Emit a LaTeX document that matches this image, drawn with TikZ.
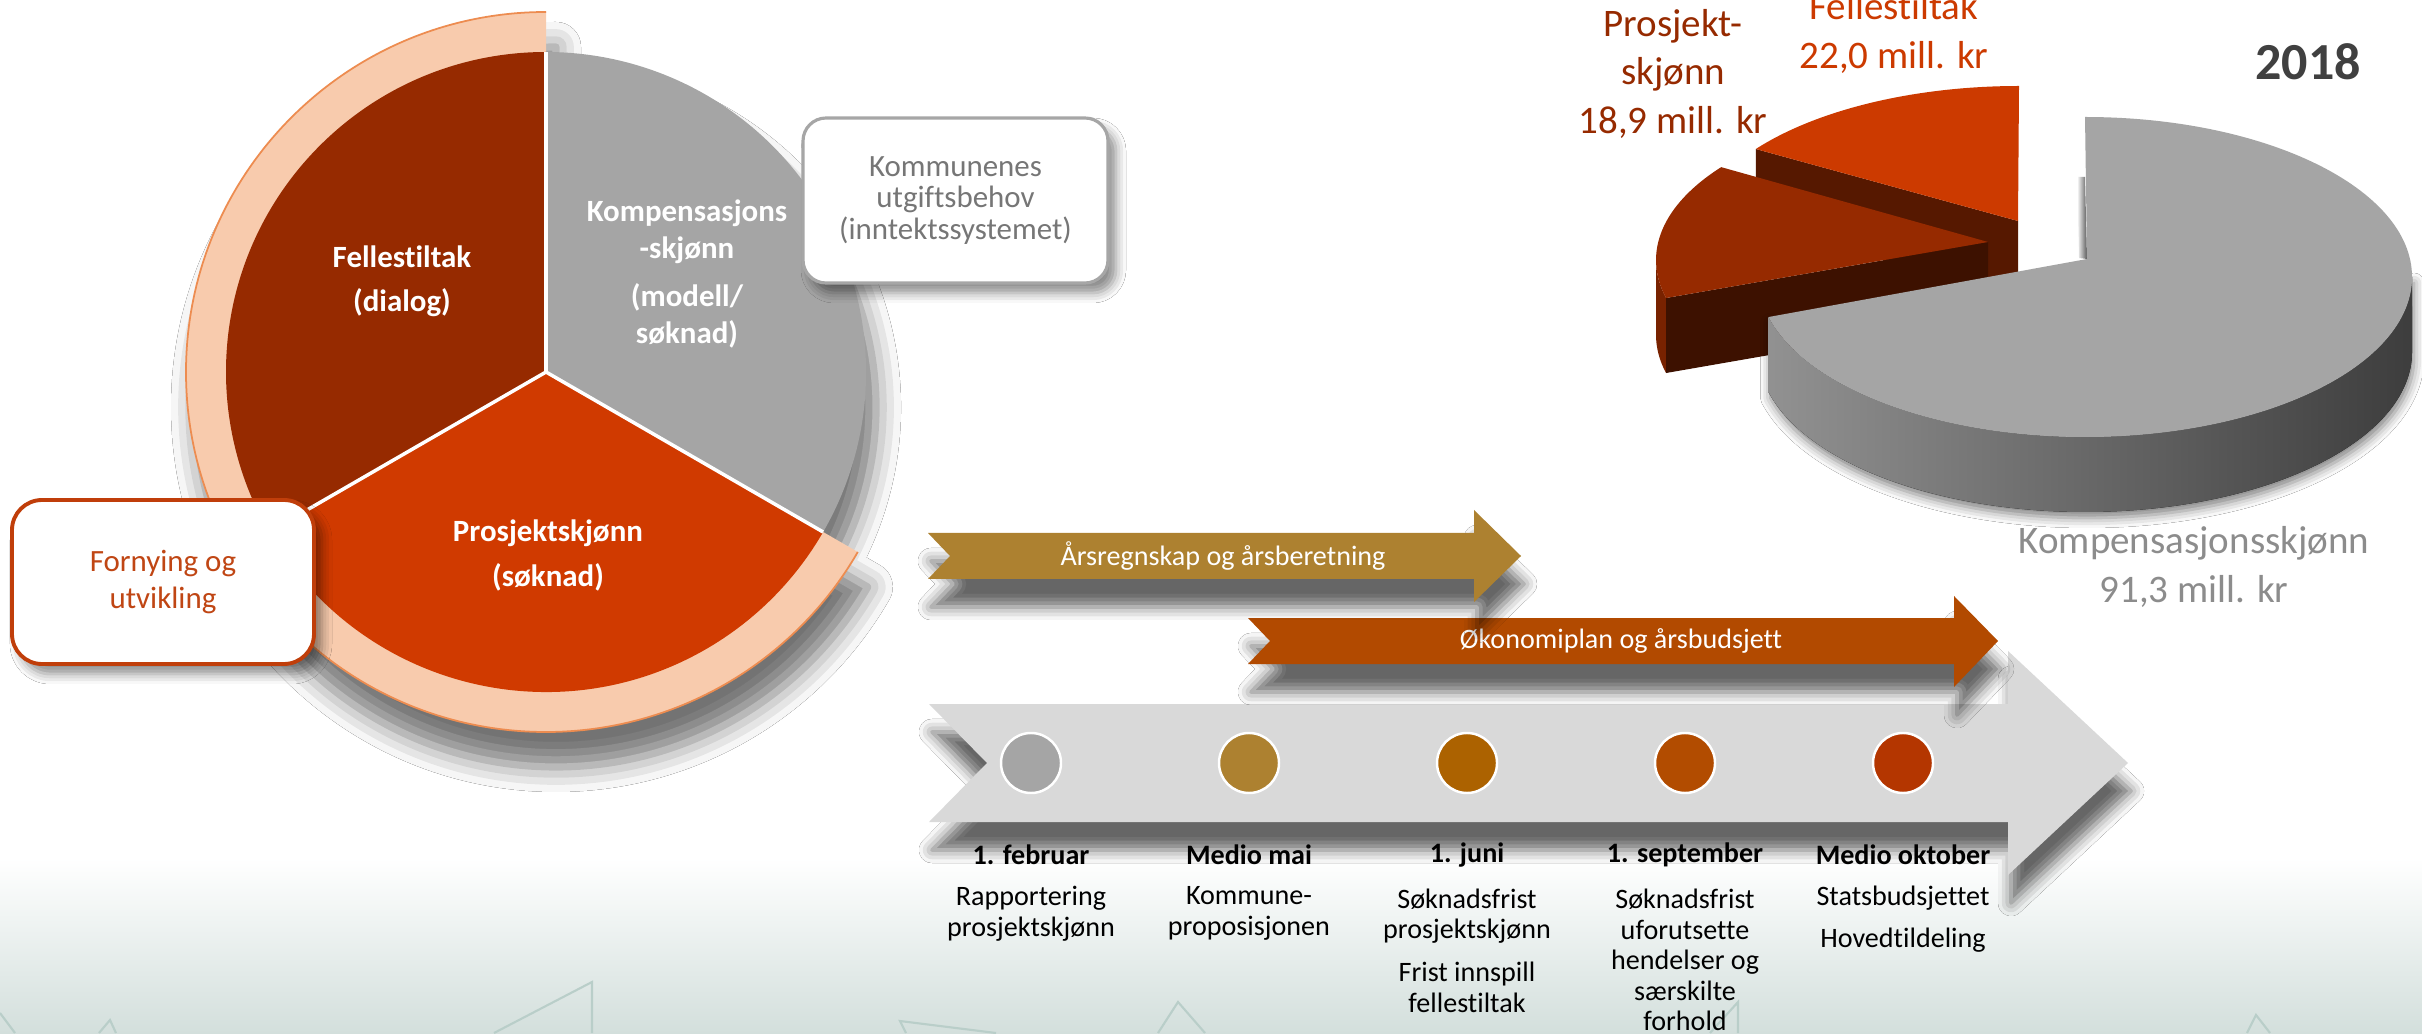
\documentclass[tikz,border=0pt]{standalone}
\usepackage{fontspec}
\setmainfont{Carlito}[Ligatures={NoCommon}]
\usepackage{tikz}
\usetikzlibrary{positioning, calc, shadows.blur}

\definecolor{fellesred}{RGB}{150,42,0}
\definecolor{prosjektorange}{RGB}{208,58,0}
\definecolor{kompgray}{RGB}{165,165,165}
\definecolor{peach}{RGB}{248,203,173}
\definecolor{peachline}{RGB}{237,140,80}
\definecolor{boxgray}{RGB}{166,166,166}
\definecolor{notegray}{RGB}{118,118,118}
\definecolor{fornyline}{RGB}{192,62,10}
\definecolor{fornytext}{RGB}{192,70,20}
\definecolor{goldband}{RGB}{173,129,48}
\definecolor{rustband}{RGB}{178,74,0}
\definecolor{timegray}{RGB}{217,217,217}
\definecolor{dotjuni}{RGB}{172,98,0}
\definecolor{dotsept}{RGB}{178,76,0}
\definecolor{dotokt}{RGB}{180,54,0}
\definecolor{pietopfelles}{RGB}{204,58,0}
\definecolor{piesidefelles}{RGB}{86,24,0}
\definecolor{piesideprosjekt}{RGB}{61,17,0}
\definecolor{pieedgeprosjekt}{RGB}{120,34,0}
\definecolor{amountgray}{RGB}{140,140,140}
\definecolor{yeargray}{RGB}{64,64,64}
\definecolor{groundteal}{RGB}{211,223,220}
\definecolor{groundline}{RGB}{185,206,201}

\newcommand{\piefont}{\fontsize{8.8}{10.4}\selectfont}
\newcommand{\notefont}{\fontsize{8.8}{9.0}\selectfont}
\newcommand{\fornyfont}{\fontsize{8.8}{10.5}\selectfont}
\newcommand{\amountfont}{\fontsize{11.1}{13.8}\selectfont}
\newcommand{\yearfont}{\fontsize{14.8}{17}\selectfont}
\newcommand{\bandfont}{\fontsize{8}{9.6}\selectfont}
\newcommand{\timefont}{\fontsize{8}{8.7}\selectfont}

\begin{document}
\begin{tikzpicture}[
    slicelabel/.style={text=white, font=\piefont\bfseries, align=center},
    notebox/.style={fill=white, align=center,
        blur shadow={shadow xshift=0.08cm, shadow yshift=-0.1cm, shadow blur radius=0.1cm, shadow opacity=45}},
    bandshadow/.style={blur shadow={shadow xshift=0.03cm, shadow yshift=-0.28cm, shadow blur radius=0.13cm, shadow opacity=60}},
    bandtext/.style={text=white, font=\bandfont},
    datelabel/.style={font=\timefont\bfseries, text=black},
    eventtext/.style={font=\timefont, align=center, text=black},
    amount/.style={font=\amountfont, align=center},
    daydot/.style={circle, draw=white, line width=0.7pt, minimum size=0.6cm, inner sep=0pt}
]
    % === Background ===
    \clip (0,0) rectangle (24.22,10.33);
    \fill[white] (0,0) rectangle (24.22,10.33);
    \shade[top color=white, bottom color=groundteal] (0,0) rectangle (24.22,1.75);
    \draw[groundline, line width=0.6pt] (0,0.20) -- (0.15,0);
    \draw[groundline, line width=0.6pt] (0.99,0) -- (1.10,0.13) -- (1.16,0);
    \draw[groundline, line width=0.6pt] (4.94,0) -- (5.92,0.51) -- (5.92,0);
    \draw[groundline, line width=0.6pt] (9.96,0) -- (9.00,0.12) -- (9.06,0);
    \draw[groundline, line width=0.6pt] (11.58,0) -- (11.78,0.31) -- (12.05,0);
    \draw[groundline, line width=0.6pt] (17.10,0) -- (17.38,0.31) -- (17.38,0);
    \draw[groundline, line width=0.6pt] (22.47,0) -- (22.56,0.18) -- (22.70,0);

    % === Pie with ring ===
    \coordinate (O) at (5.46,6.61);
    \path[blur shadow={shadow xshift=0.1cm, shadow yshift=-0.35cm, shadow blur radius=0.25cm, shadow opacity=55}]
        ($(O)+(90:3.6)$) arc[start angle=90, end angle=330, radius=3.6]
        -- ($(O)+(330:3.2)$) arc[start angle=330, end angle=450, radius=3.2] -- cycle;
    \fill[peach] (O) -- ($(O)+(90:3.6)$) arc[start angle=90, end angle=330, radius=3.6] -- cycle;
    \draw[peachline, line width=0.5pt] ($(O)+(90:3.6)$) arc[start angle=90, end angle=330, radius=3.6];

    \fill[fellesred] (O) -- ($(O)+(90:3.2)$) arc[start angle=90, end angle=210, radius=3.2] -- cycle;
    \fill[prosjektorange] (O) -- ($(O)+(210:3.2)$) arc[start angle=210, end angle=330, radius=3.2] -- cycle;
    \fill[kompgray] (O) -- ($(O)+(330:3.2)$) arc[start angle=330, end angle=450, radius=3.2] -- cycle;
    \draw[white, line width=1pt] (O) -- ($(O)+(90:3.2)$);
    \draw[white, line width=1pt] (O) -- ($(O)+(210:3.2)$);
    \draw[white, line width=1pt] (O) -- ($(O)+(330:3.2)$);

    \node[slicelabel] (felles) at (4.02,7.52) {Fellestiltak\\[2.1pt](dialog)};
    \node[slicelabel] (kompensasjon) at (6.87,7.59) {Kompensasjons\\-skjønn\\[3.5pt](modell/\\søknad)};
    \node[slicelabel] (prosjekt) at (5.48,4.775) {Prosjektskjønn\\[2.4pt](søknad)};

    % Boxes
    \node[notebox, draw=boxgray, line width=0.9pt, rounded corners=0.23cm, text=notegray, font=\notefont,
        minimum width=3.05cm, minimum height=1.65cm] (behov) at (9.555,8.325)
        {Kommunenes\\utgiftsbehov\\(inntektssystemet)};
    \node[notebox, draw=fornyline, line width=1.1pt, rounded corners=0.3cm, text=fornytext, font=\fornyfont,
        minimum width=3.02cm, minimum height=1.64cm] (fornying) at (1.63,4.51)
        {Fornying og\\utvikling};

    % === Timeline ===
    \fill[timegray, bandshadow] (9.29,3.29) -- (20.08,3.29) -- (20.08,3.82) -- (21.28,2.70)
        -- (20.08,1.58) -- (20.08,2.11) -- (9.29,2.11) -- (9.87,2.70) -- cycle;
    \fill[rustband, bandshadow] (12.48,4.15) -- (19.54,4.15) -- (19.54,4.37) -- (19.98,3.92)
        -- (19.54,3.46) -- (19.54,3.69) -- (12.48,3.69) -- (12.70,3.92) -- cycle;
    \node[bandtext] (budsjett) at (16.21,3.92) {Økonomiplan og årsbudsjett};
    \fill[goldband, bandshadow] (9.28,5.00) -- (14.74,5.00) -- (14.74,5.23) -- (15.21,4.77)
        -- (14.74,4.31) -- (14.74,4.54) -- (9.28,4.54) -- (9.50,4.77) -- cycle;
    \node[bandtext] (regnskap) at (12.23,4.77) {Årsregnskap og årsberetning};

    \foreach \x/\c [count=\i] in {10.31/kompgray, 12.49/goldband, 14.67/dotjuni, 16.85/dotsept, 19.03/dotokt}
        \node[daydot, fill=\c] (dot\i) at (\x,2.70) {};

    \node[datelabel] (feb) at (10.31,1.78) {1. februar};
    \node[datelabel] (mai) at (12.49,1.78) {Medio mai};
    \node[datelabel] (juni) at (14.67,1.78) {1. juni};
    \node[datelabel] (sept) at (16.85,1.78) {1. september};
    \node[datelabel] (okt) at (19.03,1.78) {Medio oktober};

    \node[eventtext] (febtext) at (10.31,1.195) {Rapportering\\prosjektskjønn};
    \node[eventtext] (maitext) at (12.49,1.195) {Kommune-\\proposisjonen};
    \node[eventtext] (junitext) at (14.67,0.825) {Søknadsfrist\\prosjektskjønn\\[3.4pt]Frist innspill\\fellestiltak};
    \node[eventtext] (septtext) at (16.85,0.73) {Søknadsfrist\\uforutsette\\hendelser og\\særskilte\\forhold};
    \node[eventtext] (okttext) at (19.03,1.14) {Statsbudsjettet\\[3.2pt]Hovedtildeling};

    % === 3D pie 2018 ===
    % Fellestiltak (pulled out)
    \coordinate (fc) at (20.19,7.92);
    \coordinate (fv) at (20.18,8.12);
    \fill[piesidefelles] (fv) -- ($(fc)+(143.6:3.27 and 1.55)$) -- ++(0,-0.75) -- ($(fv)+(0,-0.75)$) -- cycle;
    \fill[pietopfelles] (fv) -- ($(fc)+(90:3.27 and 1.55)$)
        arc[start angle=90, end angle=143.6, x radius=3.27, y radius=1.55] -- cycle;

    % Prosjektskjønn (pulled out)
    \coordinate (pc) at (19.83,7.73);
    \coordinate (pv) at (19.88,7.91);
    \fill[pieedgeprosjekt] ($(pc)+(180:3.27 and 1.55)$)
        arc[start angle=180, end angle=194.2, x radius=3.27, y radius=1.55] -- ++(0,-0.75)
        arc[start angle=194.2, end angle=180, x radius=3.27, y radius=1.55] -- cycle;
    \fill[piesideprosjekt] (pv) -- ($(pc)+(194.2:3.27 and 1.55)$) -- ++(0,-0.75) -- ($(pv)+(0,-0.75)$) -- cycle;
    \fill[fellesred] (pv) -- ($(pc)+(143.2:3.27 and 1.55)$)
        arc[start angle=143.2, end angle=194.2, x radius=3.27, y radius=1.55] -- cycle;

    % Kompensasjonsskjønn
    \coordinate (gc) at (20.85,7.56);
    \coordinate (gv) at (20.87,7.74);
    \shade[left color=white, right color=black!65] (20.77,8.56) -- (20.85,8.56) -- (20.87,7.74) -- (20.79,7.75) -- cycle;
    \fill[left color=black!43, right color=black!76,
        blur shadow={shadow xshift=0.02cm, shadow yshift=-0.06cm, shadow blur radius=0.1cm, shadow opacity=50}]
        ($(gc)+(-165.5:3.27 and 1.6)$)
        arc[start angle=-165.5, end angle=0, x radius=3.27, y radius=1.6] -- ++(0,-0.75)
        arc[start angle=0, end angle=-165.5, x radius=3.27, y radius=1.6] -- cycle;
    \fill[kompgray] (gv) -- ($(gc)+(90:3.27 and 1.6)$)
        arc[start angle=90, end angle=-165.5, x radius=3.27, y radius=1.6] -- cycle;

    % Labels
    \node[amount, text=pietopfelles] (fellesbelop) at (18.94,10.00) {Fellestiltak\\22,0 mill. kr};
    \node[amount, text=fellesred] (prosjektbelop) at (16.73,9.595) {Prosjekt-\\skjønn\\18,9 mill. kr};
    \node[amount, text=amountgray] (kompbelop) at (21.94,4.66) {Kompensasjonsskjønn\\91,3 mill. kr};
    \node[font=\yearfont\bfseries, text=yeargray] (year) at (23.08,9.71) {2018};

\end{tikzpicture}
\end{document}
